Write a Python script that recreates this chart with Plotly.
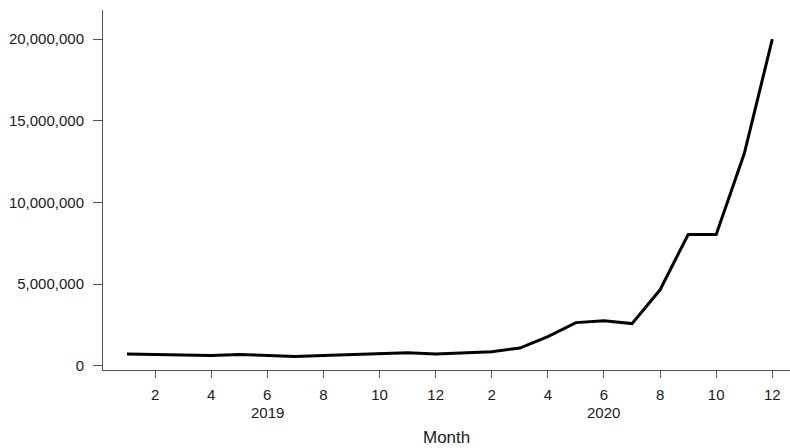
import plotly.graph_objects as go

months = list(range(1, 25))
tick_vals = [2, 4, 6, 8, 10, 12, 14, 16, 18, 20, 22, 24]
tick_text = ["2", "4", "6", "8", "10", "12", "2", "4", "6", "8", "10", "12"]
years = ["2019", "2020"]
year_pos = [6, 18]
values = [715000, 675000, 675000, 630000, 690000, 630000, 570000, 630000,
          675000, 765000, 800000, 715000, 800000, 860000, 1080000, 1780000,
          2640000, 2760000, 2580000, 4650000, 8040000, 8040000, 13000000, 20000000]

FONT = "Liberation Sans, Arial, sans-serif"
TXT = "#1a1a1a"

fig = go.Figure()
fig.add_trace(go.Scatter(x=months, y=values, mode="lines",
                         line=dict(color="black", width=3), showlegend=False))

fig.update_layout(
    width=790, height=448,
    margin=dict(l=103, r=0, t=10, b=78),
    plot_bgcolor="white", paper_bgcolor="white",
    font=dict(family=FONT, size=15, color=TXT),
    xaxis=dict(range=[0.145, 24.63], tickvals=tick_vals, ticktext=tick_text,
               showgrid=False, zeroline=False, showline=True, linecolor="#555",
               linewidth=1, ticks="outside", ticklen=7, tickcolor="#555",
               ticklabelstandoff=4, automargin=False),
    yaxis=dict(range=[-263000, 21790000], tickvals=[0, 5e6, 10e6, 15e6, 20e6],
               tickformat=",d", showgrid=False, zeroline=False, showline=True,
               linecolor="#555", linewidth=1, ticks="outside", ticklen=9,
               tickcolor="#555", ticklabelstandoff=6, automargin=False),
)
for yr, pos in zip(years, year_pos):
    fig.add_annotation(x=pos, y=0, xref="x", yref="paper", text=yr,
                       showarrow=False, yanchor="top", yshift=-32,
                       font=dict(size=15, color=TXT))
fig.add_annotation(x=(446 - 103) / 687, y=0, xref="paper", yref="paper",
                   text="Month", showarrow=False, yanchor="top", yshift=-56,
                   font=dict(size=17, color=TXT))

fig.write_html("out.html", config={"displayModeBar": False},
               post_script="document.body.style.margin='0';document.body.style.overflow='hidden';")
